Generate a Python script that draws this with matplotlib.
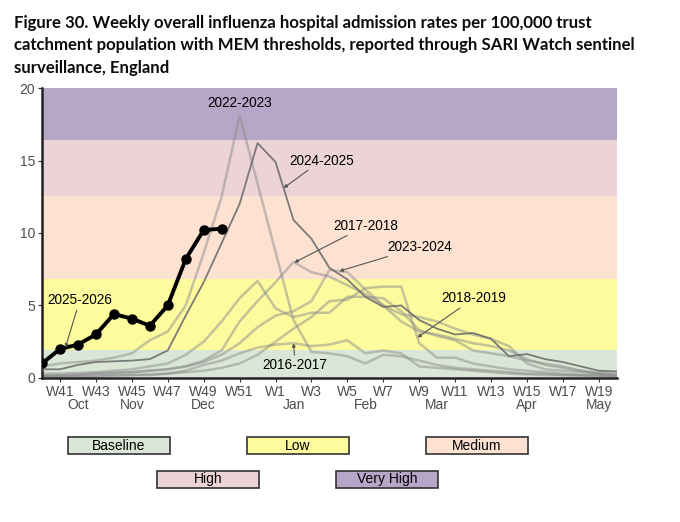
import matplotlib.pyplot as plt
from matplotlib.patches import Rectangle
import matplotlib.transforms as mtransforms
import numpy as np

# weeks W40..W52 then W1..W20
weeks = list(range(40, 53)) + list(range(1, 21))

s_2016_17 = [0.1, 0.1, 0.1, 0.15, 0.2, 0.2, 0.25, 0.3, 0.5, 0.9, 1.2, 1.7, 2.1,
             2.3, 2.4, 2.2, 2.3, 2.6, 1.7, 1.9, 1.7, 0.8, 0.7, 0.6, 0.5, 0.4, 0.3, 0.25, 0.2, 0.2, 0.15, 0.1, 0.1]
s_2017_18 = [0.2, 0.2, 0.25, 0.3, 0.35, 0.4, 0.5, 0.6, 0.8, 1.2, 1.9, 3.9, 5.3,
             6.6, 8.0, 7.3, 7.0, 6.4, 5.8, 5.0, 3.9, 3.2, 3.0, 2.7, 2.4, 2.2, 1.9, 1.3, 0.9, 0.7, 0.5, 0.35, 0.3]
s_2018_19 = [0.1, 0.1, 0.1, 0.1, 0.15, 0.2, 0.2, 0.3, 0.4, 0.5, 0.7, 1.0, 1.6,
             2.5, 3.4, 4.2, 5.3, 5.4, 6.2, 6.3, 6.3, 2.4, 1.4, 1.4, 1.0, 0.8, 0.6, 0.5, 0.4, 0.3, 0.2, 0.15, 0.1]
s_2019_20 = [0.3, 0.3, 0.35, 0.4, 0.5, 0.6, 0.8, 1.0, 1.6, 2.5, 3.9, 5.5, 6.7,
             4.8, 4.2, 4.5, 4.5, 5.6, 5.6, 5.5, 4.6, 3.3, 2.9, 2.6, 1.9, 1.7, 1.5, 1.2, 1.0, 0.8, 0.5, 0.3, 0.2]
s_2022_23 = [0.8, 1.0, 1.1, 1.2, 1.4, 1.7, 2.6, 3.2, 5.0, 8.6, 12.5, 18.1, 13.4,
             8.7, 4.0, 1.8, 1.7, 1.5, 1.0, 1.6, 1.5, 1.2, 0.9, 0.7, 0.6, 0.5, 0.4, 0.3, 0.3, 0.2, 0.2, 0.2, 0.1]
s_2023_24 = [0.1, 0.15, 0.2, 0.3, 0.35, 0.4, 0.5, 0.6, 0.8, 1.1, 1.6, 2.4, 3.5,
             4.3, 4.6, 5.3, 7.45, 7.3, 6.1, 5.0, 4.4, 4.2, 3.9, 3.4, 3.0, 2.7, 2.2, 1.0, 0.6, 0.5, 0.4, 0.3, 0.2]
s_2024_25 = [0.6, 0.6, 0.9, 1.1, 1.15, 1.2, 1.3, 1.9, 4.3, 6.6, 9.3, 12.0, 16.2,
             14.9, 10.9, 9.6, 7.6, 6.8, 5.6, 4.9, 5.0, 4.0, 3.4, 3.0, 3.1, 2.7, 1.5, 1.65, 1.3, 1.1, 0.8, 0.5, 0.45]
s_2025_26 = [1.0, 2.0, 2.3, 3.0, 4.4, 4.1, 3.6, 5.0, 8.2, 10.2, 10.3]

# MEM thresholds
levels = ["Baseline", "Low", "Medium", "High", "Very High"]
thresholds = [0, 1.93, 6.83, 12.57, 16.42, 20]
level_colors = ["#dbe7d6", "#fdfb9e", "#fde2d2", "#ebd3d8", "#b7a6c7"]

months = ["Oct", "Nov", "Dec", "Jan", "Feb", "Mar", "Apr", "May"]
month_weeks = [42, 45, 49, 2, 6, 10, 15, 19]

plt.rcParams['font.family'] = ['Liberation Sans', 'DejaVu Sans']

x = np.arange(len(weeks))
pos = {w: i for i, w in enumerate(weeks)}

fig = plt.figure(figsize=(6.8, 5.22), dpi=100)
ax = fig.add_axes([0.0618, 0.2759, 0.8452, 0.5555])

for lo, hi, c in zip(thresholds[:-1], thresholds[1:], level_colors):
    ax.axhspan(lo, hi, color=c, lw=0, zorder=0)

light = dict(color='#8c8c8c', alpha=0.5, lw=1.8, zorder=2)
for s in [s_2016_17, s_2017_18, s_2018_19, s_2019_20, s_2022_23, s_2023_24]:
    ax.plot(x, s, **light)
ax.plot(x, s_2024_25, color='#6e6e6e', alpha=0.9, lw=1.3, zorder=3)
ax.plot(x[:len(s_2025_26)], s_2025_26, color='black', lw=2.8, marker='o', ms=6.5, zorder=4)

ax.set_xlim(0, len(weeks) - 1)
ax.set_ylim(0, 20)
ax.set_yticks([0, 5, 10, 15, 20])
tick_weeks = [w for w in weeks if w % 2 == 1]
ax.set_xticks([pos[w] for w in tick_weeks])
ax.set_xticklabels([f"W{w}" for w in tick_weeks])
ax.tick_params(axis='both', which='major', length=3, width=0.8, color='#333333',
               labelsize=10, labelcolor='#4d4d4d', pad=2)
trans = mtransforms.blended_transform_factory(ax.transData, ax.transAxes)
for m, w in zip(months, month_weeks):
    ax.text(pos[w], -0.093, m, transform=trans, ha='center', va='center',
            fontsize=10, color='#4d4d4d')
for side in ['top', 'right']:
    ax.spines[side].set_visible(False)
for side in ['left', 'bottom']:
    ax.spines[side].set_linewidth(1.8)
    ax.spines[side].set_color('#222222')

# season labels
arrow = dict(arrowstyle='-|>', color='#555555', lw=0.8, mutation_scale=5, shrinkA=0, shrinkB=0)
def label(text, tx, ty, week=None, series=None):
    if week is None:
        ax.text(tx, ty, text, ha='center', va='center', fontsize=9.8, zorder=5)
        return
    py = np.interp(week, x[:len(series)], series)
    ax.annotate(text, xy=(week, py), xytext=(tx, ty), ha='center', va='center', fontsize=9.8,
                arrowprops=arrow, zorder=5)

label("2022-2023", 11.0, 19.0)
label("2024-2025", 15.55, 15.0, 13.45, s_2024_25)
label("2017-2018", 18.05, 10.5, 14.05, s_2017_18)
label("2023-2024", 21.05, 9.05, 16.55, s_2023_24)
label("2018-2019", 24.05, 5.5, 20.9, s_2018_19)
label("2016-2017", 14.1, 0.9, 14.0, s_2016_17)
label("2025-2026", 2.1, 5.35, 1.3, s_2025_26)

fig.text(0.02, 0.972, "Figure 30. Weekly overall influenza hospital admission rates per 100,000 trust\n"
         "catchment population with MEM thresholds, reported through SARI Watch sentinel\n"
         "surveillance, England", ha='left', va='top', fontsize=12.1, fontweight='bold',
         family=['Lato', 'DejaVu Sans'], linespacing=1.5, color='#0b0c0c')

# legend boxes
W, H = 680, 522
box_pos = {"Baseline": (68, 437), "Low": (247, 437), "Medium": (426, 437),
           "High": (157, 471), "Very High": (336, 471)}
for name, c in zip(levels, level_colors):
    bx, by = box_pos[name]
    fig.add_artist(Rectangle((bx / W, 1 - (by + 17) / H), 102 / W, 17 / H, transform=fig.transFigure,
                             facecolor=c, edgecolor='#333333', lw=1.2))
    fig.text((bx + 51) / W, 1 - (by + 8.5) / H, name, ha='center', va='center', fontsize=10)

fig.savefig("out.png", dpi=100)
